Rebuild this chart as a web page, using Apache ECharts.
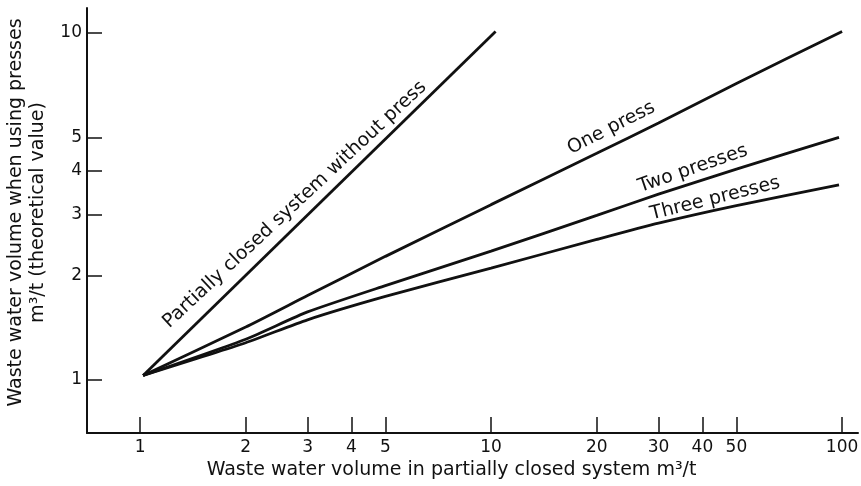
<!DOCTYPE html>
<html><head><meta charset="utf-8">
<script src="https://cdn.jsdelivr.net/npm/echarts@6/dist/echarts.min.js"></script>
<style>html,body{margin:0;padding:0;background:#fff}#c{width:861px;height:486px}</style>
</head><body><div id="c"></div>
<script>
// ---- data ----
const xTicks = [1, 2, 3, 4, 5, 10, 20, 30, 40, 50, 100];
const yTicks = [1, 2, 3, 4, 5, 10];
const partialX = [1.02, 10.3];
const partialY = [1.03, 10.1];
const pressX = [1.02, 2, 3, 5, 10, 20, 30, 50, 100];
const onePress = [1.03, 1.42, 1.75, 2.27, 3.2, 4.5, 5.5, 7.15, 10.1];
const twoPressX = [1.02, 2, 3, 5, 10, 20, 30, 50, 98];
const twoPresses = [1.03, 1.31, 1.57, 1.87, 2.35, 2.98, 3.43, 4.05, 5.0];
const threePresses = [1.03, 1.28, 1.49, 1.74, 2.10, 2.54, 2.83, 3.18, 3.65];
const seriesNames = ['Partially closed system without press', 'One press', 'Two presses', 'Three presses'];

// ---- annotation layout (positions in data space, styles) ----
const labelAnchors = [
  { text: seriesNames[0], x: 2.76, y: 3.2, rotate: 43 },
  { text: seriesNames[1], x: 22.0, y: 5.32, rotate: 27 },
  { text: seriesNames[2], x: 37.6, y: 4.06, rotate: 19 },
  { text: seriesNames[3], x: 43.5, y: 3.33, rotate: 14 }
];

const FONT = 'DejaVu Sans';
const INK = '#111';
const zip = (xs, ys) => xs.map((x, i) => [x, ys[i]]);

const lineStyle = { color: INK, width: 2.8 };
function lineSeries(name, data) {
  return { name, type: 'line', data, symbol: 'none', smooth: 0.2, lineStyle, silent: true, z: 3 };
}

const chart = echarts.init(document.getElementById('c'), null, { renderer: 'canvas' });
chart.setOption({
  animation: false,
  backgroundColor: '#fff',
  grid: { left: 87, right: 3, top: 8, bottom: 53, containLabel: false, outerBoundsMode: 'none' },
  xAxis: {
    type: 'log', logBase: 10, min: 0.706, max: 111,
    axisLine: { show: true, lineStyle: { color: INK, width: 2 } },
    axisTick: { show: true, inside: true, length: 16, customValues: xTicks, lineStyle: { color: INK, width: 1.5 } },
    minorTick: { show: false },
    axisLabel: { customValues: xTicks, color: INK, fontSize: 17, fontFamily: FONT, margin: 6 },
    splitLine: { show: false },
    name: 'Waste water volume in partially closed system m³/t',
    nameLocation: 'middle', nameGap: 24,
    nameTextStyle: { color: INK, fontSize: 19, fontFamily: FONT, padding: [0, 42, 0, 0] }
  },
  yAxis: {
    type: 'log', logBase: 10, min: 0.703, max: 11.8,
    axisLine: { show: true, lineStyle: { color: INK, width: 2 } },
    axisTick: { show: true, inside: true, length: 15, customValues: yTicks, lineStyle: { color: INK, width: 1.5 } },
    minorTick: { show: false },
    axisLabel: { customValues: yTicks, color: INK, fontSize: 17, fontFamily: FONT, margin: 5 },
    splitLine: { show: false },
    name: 'Waste water volume when using presses\nm³/t (theoretical value)',
    nameLocation: 'middle', nameRotate: 90, nameGap: 38,
    nameTextStyle: { color: INK, fontSize: 19, fontFamily: FONT, lineHeight: 22, align: 'center', padding: [0, 0, 0, 16] }
  },
  series: [
    lineSeries(seriesNames[0], zip(partialX, partialY)),
    lineSeries(seriesNames[1], zip(pressX, onePress)),
    lineSeries(seriesNames[2], zip(twoPressX, twoPresses)),
    lineSeries(seriesNames[3], zip(twoPressX, threePresses)),
    {
      type: 'scatter', symbolSize: 0, silent: true, z: 4,
      itemStyle: { opacity: 1 },
      data: labelAnchors.map(a => ({
        value: [a.x, a.y],
        label: {
          show: true, position: 'inside', formatter: a.text, rotate: a.rotate,
          color: INK, fontSize: 19, fontFamily: FONT, opacity: 1
        }
      }))
    }
  ]
});
</script>
</body></html>
